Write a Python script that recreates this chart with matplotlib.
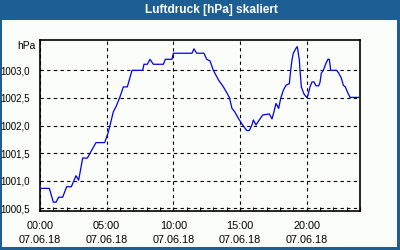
import matplotlib
matplotlib.use("Agg")
import matplotlib.pyplot as plt
from matplotlib.patches import Rectangle
from matplotlib.ticker import FixedLocator, MultipleLocator

title = "Luftdruck [hPa] skaliert"
unit = "hPa"
hours = [0.0, 0.7, 1.0, 1.2, 1.4, 1.7, 2.0, 2.35, 2.7, 2.9, 3.2, 3.55, 4.2, 4.85,
         5.1, 5.35, 5.5, 5.7, 6.0, 6.25, 6.55, 6.9, 7.7, 7.8, 8.05, 8.25, 8.5, 9.25,
         9.4, 9.9, 10.0, 11.4, 11.55, 11.75, 12.3, 12.5, 12.75, 13.0, 13.4, 13.7,
         13.9, 14.2, 14.4, 14.6, 14.9, 15.2, 15.5, 15.7, 15.9, 16.0, 16.2, 16.5,
         16.7, 17.2, 17.4, 17.55, 17.7, 17.9, 18.05, 18.25, 18.45, 18.7, 18.8, 18.9,
         19.0, 19.2, 19.3, 19.45, 19.5, 19.6, 19.8, 20.0, 20.1, 20.25, 20.4, 20.55,
         20.7, 20.9, 21.0, 21.1, 21.25, 21.45, 21.6, 21.7, 21.8, 22.25, 22.4, 22.6,
         22.75, 22.9, 23.05, 23.25, 24.0]
pressure = [1000.86, 1000.86, 1000.61, 1000.61, 1000.70, 1000.70, 1000.89, 1000.89,
            1001.09, 1001.01, 1001.41, 1001.41, 1001.69, 1001.69, 1001.86, 1002.10,
            1002.25, 1002.34, 1002.52, 1002.70, 1002.70, 1003.00, 1003.00, 1003.11,
            1003.11, 1003.20, 1003.11, 1003.11, 1003.20, 1003.20, 1003.31, 1003.31,
            1003.39, 1003.31, 1003.31, 1003.20, 1003.17, 1003.00, 1002.82, 1002.72,
            1002.64, 1002.51, 1002.31, 1002.25, 1002.12, 1002.01, 1001.91, 1001.91,
            1002.01, 1002.10, 1002.01, 1002.12, 1002.19, 1002.21, 1002.12, 1002.25,
            1002.40, 1002.31, 1002.49, 1002.64, 1002.73, 1002.76, 1003.00, 1003.19,
            1003.31, 1003.40, 1003.43, 1003.19, 1003.00, 1002.70, 1002.57, 1002.51,
            1002.55, 1002.70, 1002.79, 1002.79, 1002.72, 1002.72, 1002.78, 1002.95,
            1003.00, 1003.13, 1003.20, 1003.20, 1003.00, 1003.00, 1002.95, 1002.86,
            1002.73, 1002.70, 1002.61, 1002.51, 1002.51]
xtick_pos = [0, 5, 10, 15, 20]
xtick_labels = ["00:00\n07.06.18", "05:00\n07.06.18", "10:00\n07.06.18",
                "15:00\n07.06.18", "20:00\n07.06.18"]
ytick_pos = [1000.5, 1001.0, 1001.5, 1002.0, 1002.5, 1003.0]
ytick_labels = ["1000,5", "1001,0", "1001,5", "1002,0", "1002,5", "1003,0"]

FONT = "Liberation Sans"
blue_frame = "#1D5F94"
bg = "#FAFDFA"

fig = plt.figure(figsize=(4, 2.5), dpi=100)
fig.patch.set_facecolor(blue_frame)
fig.patches.append(Rectangle((2/400, 3/250), 395/400, 227/250, transform=fig.transFigure,
                             facecolor=bg, edgecolor="none", zorder=-5))
fig.text(211/400, 1 - 10/250, title, color="white", fontweight="bold", fontsize=8.6,
         ha="center", va="center", family=FONT)

ax = fig.add_axes([40/400, 1 - 211/250, 320/400, 171/250], zorder=2)
ax.set_facecolor(bg)
ax.plot(hours, pressure, color="#0000F0", lw=0.9, zorder=3)
ax.set_xlim(0, 24)
ax.set_ylim(1000.45, 1003.55)
ax.xaxis.set_major_locator(FixedLocator(xtick_pos))
ax.set_xticklabels(xtick_labels, family=FONT, fontsize=7.8, linespacing=1.55)
ax.xaxis.set_minor_locator(MultipleLocator(1))
ax.set_yticks(ytick_pos)
ax.set_yticklabels(ytick_labels, family=FONT, fontsize=7.0)
ax.tick_params(axis="x", which="both", direction="in", length=3, width=0.8, pad=7)
ax.tick_params(axis="y", length=0, pad=7)
ax.grid(True, which="major", color="black", ls=(0, (3, 3)), lw=0.8)
for s in ax.spines.values():
    s.set_linewidth(1.2)
fig.text(35/400, 1 - 46/250, unit, ha="right", va="center", family=FONT, fontsize=7.4)

fig.savefig("out.png", dpi=100, facecolor=fig.get_facecolor())
